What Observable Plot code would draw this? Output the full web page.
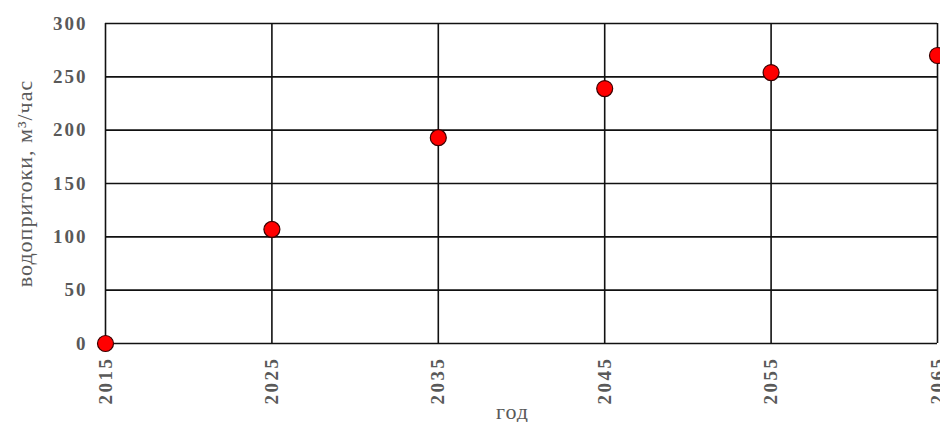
<!DOCTYPE html>
<html><head><meta charset="utf-8">
<script src="https://cdn.jsdelivr.net/npm/d3@7"></script>
<script src="https://cdn.jsdelivr.net/npm/@observablehq/plot@0.6"></script>
<style>
body{margin:0;background:#fff;}
#chart svg{font-family:"Liberation Serif","Times New Roman",serif;}
.xt text{letter-spacing:2.5px;}
.yt text{letter-spacing:2px;}
.lbl text{letter-spacing:1px;}
</style>
</head><body><div id="chart"></div>
<script>
const years = [2015, 2025, 2035, 2045, 2055, 2065];
const inflow = [0, 107, 193, 239, 254, 270];
const yTicks = [0, 50, 100, 150, 200, 250, 300];
const xLabel = "год";
const yLabel = "водопритоки, м³/час";

const data = years.map((y, i) => ({year: y, value: inflow[i]}));

const chart = Plot.plot({
  width: 940, height: 422,
  marginLeft: 105, marginRight: 3, marginTop: 23, marginBottom: 79,
  style: {fontFamily: '"Liberation Serif", serif', fontSize: "19px", background: "#fff", overflow: "visible"},
  x: {domain: [2015, 2065], ticks: years, tickFormat: d => String(d)},
  y: {domain: [0, 300], ticks: yTicks},
  marks: [
    Plot.ruleY(yTicks, {stroke: "#111", strokeWidth: 1.6}),
    Plot.ruleX(years, {stroke: "#111", strokeWidth: 1.6}),
    Plot.axisX({ticks: years, tickFormat: d => String(d), tickSize: 0, tickPadding: 13, tickRotate: -90, fontWeight: "bold", fill: "#595959", fontSize: 19, label: null, className: "xt"}),
    Plot.axisY({ticks: yTicks, tickSize: 0, tickPadding: 18, fontWeight: "bold", fill: "#595959", fontSize: 19, label: null, className: "yt"}),
    Plot.text([xLabel], {frameAnchor: "bottom", lineAnchor: "middle", dx: -9, dy: 68, fill: "#595959", fontSize: 22, className: "lbl"}),
    Plot.text([yLabel], {frameAnchor: "left", textAnchor: "middle", lineAnchor: "middle", dx: -81, rotate: -90, fill: "#595959", fontSize: 22, className: "lbl"}),
    Plot.dot(data, {x: "year", y: "value", r: 8, fill: "#ff0000", stroke: "#3a0000", strokeWidth: 1.2})
  ]
});
document.getElementById("chart").appendChild(chart);
</script></body></html>
